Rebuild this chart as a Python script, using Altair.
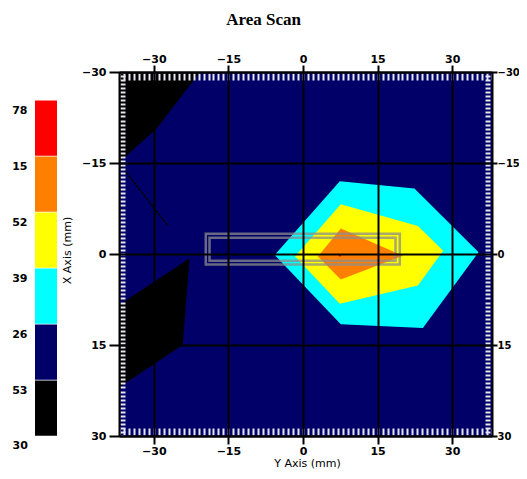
import altair as alt
import pandas as pd

# ---------------- data ----------------
legend_labels = ["78", "15", "52", "39", "26", "53"]
legend_colors = ["#ff0000", "#ff8000", "#ffff00", "#00ffff", "#000068", "#000000"]
legend_bottom_label = "30"

major_ticks = [-30, -15, 0, 15, 30]

# black region, upper left corner
black_tri_x = [-37.0, -20.7, -29.5, -37.0]
black_tri_y = [-30.0, -30.0, -20.6, -15.1]
# black region, lower left
black_quad_x = [-37.0, -22.8, -24.2, -37.0]
black_quad_y = [8.4, 0.7, 15.0, 22.0]
# cyan band
cyan_x = [7.4, 22.4, 35.3, 24.1, 7.6, -5.7]
cyan_y = [-12.0, -10.8, -0.3, 12.2, 11.6, 0.15]
# yellow band
yellow_x = [7.6, 23.1, 28.2, 23.1, 7.4, -1.6]
yellow_y = [-8.2, -4.6, -0.55, 5.2, 8.2, 0.4]
# orange band
orange_x = [7.6, 20.1, 7.6, 3.0]
orange_y = [-4.2, 0.3, 4.2, 0.4]
# red peak
red_x = [7.4]
red_y = [0.2]
# thin black streak
streak_x = [-37.0, -27.2]
streak_y = [-15.0, -4.7]
# grey scan box (outer / inner outline)
box_x1 = [-19.55, -18.8]
box_x2 = [19.46, 18.6]
box_y1 = [-3.33, -2.67]
box_y2 = [1.75, 1.12]


def poly_df(xs, ys, band, pid):
    return pd.DataFrame({"x": xs, "y": ys, "band": band, "poly": pid,
                         "k": list(range(len(xs)))})


black_df = pd.concat([poly_df(black_tri_x, black_tri_y, "53", "a"),
                      poly_df(black_quad_x, black_quad_y, "53", "b")])
cyan_df = poly_df(cyan_x, cyan_y, "39", "c")
yellow_df = poly_df(yellow_x, yellow_y, "52", "y")
orange_df = poly_df(orange_x, orange_y, "15", "o")
red_df = pd.DataFrame({"x": red_x, "y": red_y})
streak_df = pd.DataFrame({"x": streak_x, "y": streak_y, "k": [0, 1]})
box_df = pd.DataFrame({"x1": box_x1, "x2": box_x2, "y1": box_y1, "y2": box_y2})

# ---------------- scales ----------------
xsc = alt.Scale(domain=[-37, 38], nice=False, zero=False)
ysc = alt.Scale(domain=[-30, 30], nice=False, zero=False, reverse=True)
csc = alt.Scale(domain=legend_labels, range=legend_colors)

x_minor = list(range(-37, 39))
y_minor = [round(-30 + i * 2 / 3, 3) for i in range(91)]

lab = dict(labelFont="DejaVu Sans", labelFontWeight="bold",
           labelColor="black", labelOverlap=False, labelFlush=False)
main = dict(values=major_ticks, domain=True, domainColor="black", domainWidth=2,
            tickColor="black", tickWidth=2, zindex=2, **lab)
ttl = dict(titleFont="DejaVu Sans", titleFontSize=11, titleFontWeight="normal",
           titleColor="black")

x_top = alt.Axis(orient="top", tickSize=7, labelPadding=1, labelFontSize=11, title=None,
                 grid=True, gridColor="black", gridWidth=2, **main)
x_bottom = alt.Axis(orient="bottom", tickSize=8, labelPadding=1, labelFontSize=11,
                    title="Y Axis (mm)", titleX=188, titleY=27, titleBaseline="middle",
                    grid=False, **main, **ttl)
y_left = alt.Axis(orient="left", tickSize=10, labelPadding=3, labelFontSize=11,
                  title="X Axis (mm)", titleX=-52, titleY=178, titleBaseline="middle",
                  titleAngle=270, grid=True, gridColor="black", gridWidth=2, **main, **ttl)
y_right = alt.Axis(orient="right", tickSize=5, labelPadding=0, labelFontSize=10,
                   title=None, grid=False, labelAlign="left", **main)

minor = dict(grid=False, domain=False, labels=False, tickColor="#e6e6f0", tickWidth=2,
             zindex=1, title=None)
x_top_minor = alt.Axis(orient="top", values=x_minor, offset=-8, tickSize=7, **minor)
x_bottom_minor = alt.Axis(orient="bottom", values=x_minor, offset=-8, tickSize=7, **minor)
y_left_minor = alt.Axis(orient="left", values=y_minor, offset=-6, tickSize=5, **minor)
y_right_minor = alt.Axis(orient="right", values=y_minor, offset=-7, tickSize=5, **minor)

# colour bar: symbolSize 4 -> custom path drawn at 1px per unit
legend_def = alt.Legend(
    orient="none", legendX=-106.5, legendY=33, direction="vertical",
    title=legend_bottom_label, titleOrient="bottom", titleAnchor="start",
    titleAlign="left", titlePadding=4, titleFont="DejaVu Sans", titleFontSize=11,
    titleFontWeight="bold", titleColor="black",
    symbolType="M17,-10H39V45.3H17Z", symbolSize=4, symbolStrokeWidth=0,
    symbolOffset=0, symbolOpacity=1, labelOffset=4, labelAlign="right",
    labelBaseline="middle", labelFont="DejaVu Sans", labelFontSize=11,
    labelFontWeight="bold", labelColor="black", rowPadding=0, padding=0,
)


def poly_layer(df, xaxis, yaxis, legend=None):
    if legend is not None:
        col = alt.Color("band:N", scale=csc, legend=legend)
    else:
        col = alt.Color("band:N", scale=csc, legend=None)
    return alt.Chart(df).mark_line(filled=True, interpolate="linear-closed",
                                   strokeWidth=0, opacity=1).encode(
        x=alt.X("x:Q", scale=xsc, axis=xaxis),
        y=alt.Y("y:Q", scale=ysc, axis=yaxis),
        color=col,
        detail="poly:N",
        order="k:Q",
    )


black = poly_layer(black_df, x_top, y_left, legend_def)
cyan = poly_layer(cyan_df, x_bottom, y_right)
yellow = poly_layer(yellow_df, x_top_minor, y_left_minor)
orange = poly_layer(orange_df, x_bottom_minor, y_right_minor)

streak = alt.Chart(streak_df).mark_line(color="black", strokeWidth=1.5,
                                        strokeDash=[3, 1]).encode(
    x=alt.X("x:Q", scale=xsc, axis=None),
    y=alt.Y("y:Q", scale=ysc, axis=None),
    order="k:Q",
)

red = alt.Chart(red_df).mark_square(size=6, color="#ff0000", opacity=1).encode(
    x=alt.X("x:Q", scale=xsc, axis=None),
    y=alt.Y("y:Q", scale=ysc, axis=None),
)

box = alt.Chart(box_df).mark_rect(fillOpacity=0, stroke="#8c8c8c", strokeWidth=2.5,
                                  strokeOpacity=0.75).encode(
    x=alt.X("x1:Q", scale=xsc, axis=None),
    x2="x2:Q",
    y=alt.Y("y1:Q", scale=ysc, axis=None),
    y2="y2:Q",
)

chart = alt.layer(black, cyan, yellow, orange, streak, red, box).resolve_axis(
    x="independent", y="independent"
).properties(
    width=373,
    height=364,
    padding={"left": 111, "top": 64, "right": 27, "bottom": 35},
    autosize=alt.AutoSizeParams(type="none"),
    title=alt.TitleParams("Area Scan", font="Liberation Serif", fontSize=17,
                          fontWeight="bold", color="black", frame="group",
                          anchor="middle", dx=-42, offset=24),
    background="white",
).configure_view(fill="#000068", stroke="transparent")

chart.save("out.html", embed_options={"renderer": "svg", "actions": False})
